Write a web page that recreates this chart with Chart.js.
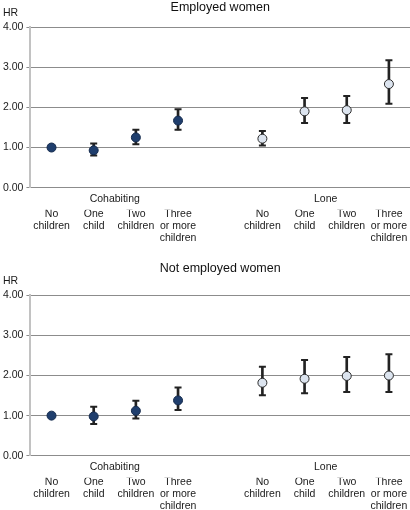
<!DOCTYPE html>
<html>
<head>
<meta charset="utf-8">
<script src="https://cdn.jsdelivr.net/npm/chart.js@4/dist/chart.umd.min.js"></script>
<style>
  html, body { margin: 0; padding: 0; background: #fff; overflow: hidden; width: 410px; height: 510px; }
  #c1 { position: absolute; left: 0; top: 0; }
  #c2 { position: absolute; left: 0; top: 252px; }
</style>
</head>
<body>
<canvas id="c1" width="410" height="252"></canvas>
<canvas id="c2" width="410" height="265"></canvas>
<script>
// ---- data ----
const panelTitles = ['Employed women', 'Not employed women'];
const groups = ['Cohabiting', 'Lone'];
const childLabels = [['No', 'children'], ['One', 'child'], ['Two', 'children'], ['Three', 'or more', 'children']];
const yTicks = [0, 1, 2, 3, 4];

// Employed women: hazard ratio with 95% CI
const empCohabHR   = [1.00, 0.93, 1.25, 1.67];
const empCohabLow  = [null, 0.80, 1.08, 1.44];
const empCohabHigh = [null, 1.10, 1.44, 1.95];
const empLoneHR    = [1.22, 1.90, 1.93, 2.58];
const empLoneLow   = [1.05, 1.61, 1.61, 2.09];
const empLoneHigh  = [1.41, 2.23, 2.28, 3.17];

// Not employed women
const nempCohabHR   = [1.00, 0.98, 1.12, 1.38];
const nempCohabLow  = [null, 0.79, 0.93, 1.14];
const nempCohabHigh = [null, 1.22, 1.37, 1.70];
const nempLoneHR    = [1.82, 1.92, 1.99, 2.00];
const nempLoneLow   = [1.51, 1.56, 1.59, 1.59];
const nempLoneHigh  = [2.22, 2.39, 2.46, 2.53];

// ---- styles ----
const COHAB_FILL = '#1f3e6d', COHAB_BORDER = '#142a4c';
const LONE_FILL = '#dce4ef', LONE_BORDER = '#2a2a2a';
const BAR_COLOR = '#222222';
const FS = 10.5;

Chart.defaults.font.family = '"Liberation Sans", Arial, sans-serif';
Chart.defaults.color = '#1a1a1a';

const join = (a, b) => a.concat([null], b);
const labels = childLabels.concat([''], childLabels);

const hrLabel = {
  id: 'hrLabel',
  afterDraw(chart) {
    const ctx = chart.ctx;
    ctx.save();
    ctx.font = FS + 'px "Liberation Sans", Arial, sans-serif';
    ctx.fillStyle = '#1a1a1a';
    ctx.textAlign = 'left';
    ctx.textBaseline = 'middle';
    ctx.fillText('HR', 3, chart.chartArea.top - 14);
    ctx.restore();
  }
};

function makeChart(id, title, hr, low, high, pad, titleBottom) {
  const n = hr.length;
  const fills = hr.map((v, i) => i < 4 ? COHAB_FILL : LONE_FILL);
  const borders = hr.map((v, i) => i < 4 ? COHAB_BORDER : LONE_BORDER);
  const ranges = low.map((l, i) => (l == null || high[i] == null) ? null : [l, high[i]]);
  return new Chart(document.getElementById(id), {
    type: 'bar',
    data: {
      labels: labels,
      datasets: [
        { type: 'line', data: hr, showLine: false, xAxisID: 'x', yAxisID: 'y', order: 0,
          pointRadius: 4.5, pointHoverRadius: 4.5, pointBackgroundColor: fills,
          pointBorderColor: borders, pointBorderWidth: 1 },
        { type: 'line', data: low, showLine: false, xAxisID: 'x', yAxisID: 'y', order: 1,
          pointStyle: 'line', pointRadius: 3.5, pointHoverRadius: 3.5,
          pointBorderColor: BAR_COLOR, pointBorderWidth: 2 },
        { type: 'line', data: high, showLine: false, xAxisID: 'x', yAxisID: 'y', order: 1,
          pointStyle: 'line', pointRadius: 3.5, pointHoverRadius: 3.5,
          pointBorderColor: BAR_COLOR, pointBorderWidth: 2 },
        { type: 'bar', data: ranges, xAxisID: 'x', yAxisID: 'y', order: 2,
          backgroundColor: BAR_COLOR, borderWidth: 0, barThickness: 2 }
      ]
    },
    options: {
      responsive: false,
      animation: false,
      devicePixelRatio: 1,
      layout: { padding: pad, autoPadding: false },
      plugins: {
        legend: { display: false },
        tooltip: { enabled: false },
        title: { display: true, text: title, fullSize: false,
          font: { size: 12.5, weight: 'normal', lineHeight: 1.2 }, color: '#111',
          padding: { top: 0, bottom: titleBottom } }
      },
      scales: {
        y: {
          min: 0, max: 4,
          afterBuildTicks: ax => { ax.ticks = yTicks.map(v => ({ value: v })); },
          ticks: { callback: v => Number(v).toFixed(2), font: { size: FS }, color: '#1a1a1a', padding: 3 },
          grid: { color: '#8c8c8c', lineWidth: 1, tickLength: 4, drawTicks: true },
          border: { display: true, color: '#c2c2c2', width: 2 }
        },
        x2: {
          type: 'linear', position: 'bottom', weight: 0, offset: false,
          min: -0.5, max: n - 0.5,
          afterBuildTicks: ax => { ax.ticks = [{ value: 1.5 }, { value: 6.5 }]; },
          ticks: { callback: v => (v < 4 ? groups[0] : groups[1]), font: { size: FS, lineHeight: 1.15 },
            color: '#1a1a1a', padding: 5, autoSkip: false, maxRotation: 0, minRotation: 0 },
          grid: { display: false, drawTicks: false },
          border: { display: false }
        },
        x: {
          type: 'category', position: 'bottom', weight: 1, offset: true,
          ticks: { font: { size: FS, lineHeight: 1.15 }, color: '#1a1a1a', padding: -1.5,
            autoSkip: false, maxRotation: 0, minRotation: 0 },
          grid: { display: false, drawTicks: false },
          border: { display: false }
        }
      }
    },
    plugins: [hrLabel]
  });
}

makeChart('c1', panelTitles[0], join(empCohabHR, empLoneHR), join(empCohabLow, empLoneLow),
  join(empCohabHigh, empLoneHigh), { top: 0, bottom: 9, left: 0, right: 0 }, 12);
makeChart('c2', panelTitles[1], join(nempCohabHR, nempLoneHR), join(nempCohabLow, nempLoneLow),
  join(nempCohabHigh, nempLoneHigh), { top: 9, bottom: 6, left: 0, right: 0 }, 19.4);
</script>
</body>
</html>
